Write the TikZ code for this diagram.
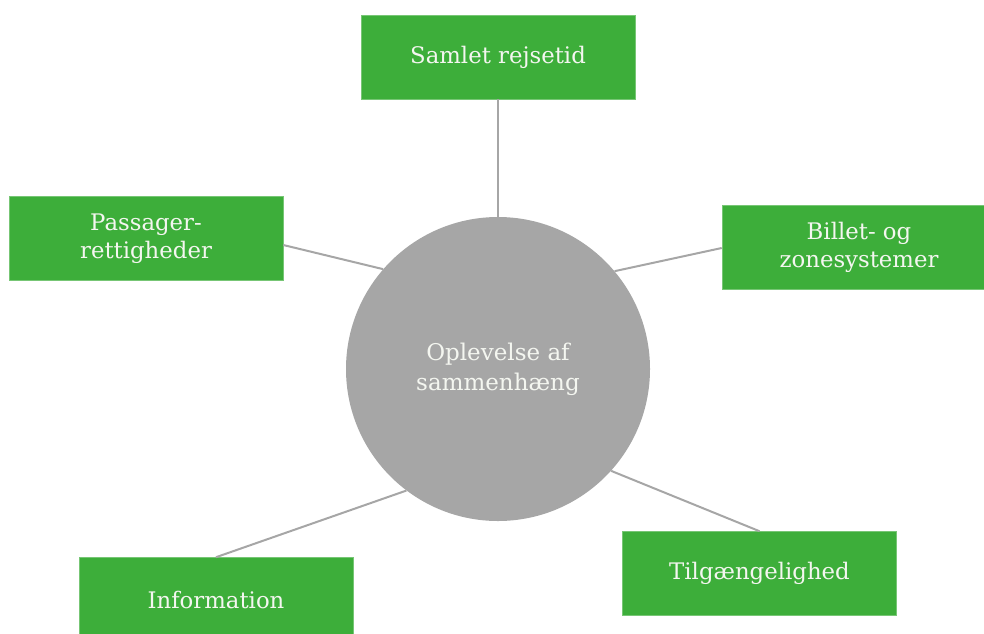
\documentclass[tikz,border=0pt]{standalone}
\usepackage{fontspec}
\setmainfont{DejaVu Serif}
\definecolor{boxgreen}{HTML}{3DAE3A}
\definecolor{hubgray}{HTML}{A6A6A6}
\definecolor{linkgray}{HTML}{A6A6A6}
\definecolor{txtlight}{HTML}{F4F6F0}
\tikzset{
  leaf/.style={rectangle, fill=boxgreen, draw=boxgreen!70!white, line width=0.6pt,
    minimum width=274pt, minimum height=84pt, inner sep=0pt, align=center,
    text=txtlight, font=\fontsize{22.8}{28}\selectfont},
  hub/.style={circle, fill=hubgray, minimum size=304pt, inner sep=0pt, align=center,
    text=txtlight, font=\fontsize{23}{30}\selectfont},
  link/.style={draw=linkgray, line width=2pt}
}
\begin{document}
\begin{tikzpicture}[x=1pt,y=-1pt]
\useasboundingbox (0,0) rectangle (984,633);
\node[hub] (c) at (498,369) {Oplevelse af\\sammenhæng};
\node[leaf] (top) at (498,57) {Samlet rejsetid};
\node[leaf] (left) at (146,238.5) {Passager-\\rettigheder};
\node[leaf] (right) at (859,247) {Billet- og\\zonesystemer};
\node[leaf] (br) at (759.5,573.5) {Tilgængelighed};
\node[leaf] (bl) at (216,599.5) {Information};
\draw[link] (top.south) -- (c.north);
\draw[link] ([yshift=-6.5pt]left.east) -- (c.139.5);
\draw[link] ([yshift=-1pt]right.west) -- (c.40.5);
\draw[link] (br.north) -- (c.-42);
\draw[link] (bl.north) -- (c.233);
\end{tikzpicture}
\end{document}
